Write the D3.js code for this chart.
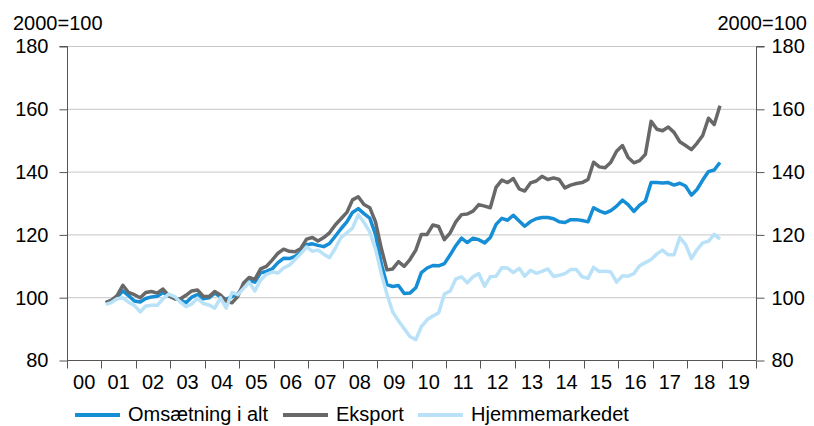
<!DOCTYPE html>
<html>
<head>
<meta charset="utf-8">
<script src="https://cdn.jsdelivr.net/npm/d3@7"></script>
<style>
  body { margin: 0; background: #fff; }
  text { font-family: "Liberation Sans", Arial, sans-serif; fill: #000; }
</style>
</head>
<body>
<script>
// bimonthly points, Feb 2001 .. Dec 2018 (mid-month)
var months = d3.range(108).map(function(i){return new Date(2001, 1 + 2 * i, 15);});
var yearLabels = ['00','01','02','03','04','05','06','07','08','09','10','11','12','13','14','15','16','17','18','19'];
var yTicks = [80, 100, 120, 140, 160, 180];

var omsaetning = [
  98.3, 99, 100, 102, 100.5, 98.8,
  98.5, 99.6, 100.1, 100.3, 101.5, 100.4,
  99.6, 99.2, 98.2, 100, 100.8, 99.5,
  99.8, 101.3, 100.1, 99.3, 100.2, 101,
  103.5, 105.3, 104.8, 107.8, 108.2, 109,
  111, 112.4, 112.3, 113, 114.3, 116.7,
  117, 116.5, 116.1, 117.1, 119.4, 121.8,
  124, 127, 128.2, 126.6, 125.2, 120,
  110.5, 104, 103.4, 103.7, 101.2, 101.3,
  103, 107.8, 109.3, 110.1, 110, 110.7,
  113.5, 116.4, 118.8, 117.4, 118.8, 118.3,
  117.3, 119, 123.2, 125.1, 124.5, 126.1,
  124.3, 122.6, 124.1, 125, 125.4, 125.4,
  125, 124, 123.8, 124.7, 124.7, 124.4,
  124, 128.5, 127.5, 126.8, 127.6, 129,
  130.9, 129.5, 127.3, 129.3, 130.6, 136.5,
  136.5, 136.4, 136.5, 135.7, 136.3, 135.4,
  132.5, 134.3, 137.3, 140, 140.5, 142.9
];
var eksport = [
  98.3, 99, 100.5, 103.8, 101.5, 100.8,
  99.8, 101.5, 101.8, 101.3, 102.6, 100.5,
  99.5, 99.4, 100.6, 102, 102.3, 100.3,
  100.2, 101.8, 100.7, 98.8, 98.2, 100.2,
  104.5, 106.3, 105.7, 109, 109.8, 111.8,
  114, 115.3, 114.6, 114.5, 115.5, 118.5,
  119, 117.9, 119, 120.5, 123, 125,
  127, 131, 132, 129.5, 128.5, 124,
  115.5, 108.7, 109, 111.3, 109.8, 112,
  115, 120, 120, 123, 122.5, 118.3,
  120.5, 124, 126.3, 126.5, 127.4, 129.5,
  129, 128.5, 135, 137.3, 136.5, 137.8,
  134.5, 133.8, 136.4, 137, 138.5, 137.5,
  138, 137.5, 134.8, 135.7, 136.2, 136.5,
  137.5, 143, 141.5, 141.2, 143, 146.5,
  148.3, 144.5, 142.8, 143.5, 145.5, 156,
  153.5, 153, 154.2, 152.5, 149.5, 148.3,
  147, 149, 151.5, 157, 155, 161
];
var hjemmemarked = [
  97.7, 98.3, 99.5, 99.8, 98.4, 97.4,
  95.3, 97.2, 97.4, 97.4, 99.5, 101,
  100.2, 98.5, 97, 97.8, 99.7, 98,
  97.5, 96.5, 99.8, 96.5, 101.5, 100.8,
  102.8, 104.8, 102, 105.5, 107.3, 108,
  107.7, 109.3, 110.2, 112, 113.8, 116,
  114.6, 115, 113.7, 112.6, 115.5, 119,
  120.5, 122, 126.3, 123.8, 120.8, 115.3,
  107.5, 101, 95.3, 92.5, 90, 87.5,
  86.5, 90.6, 92.8, 94, 95, 101,
  102, 105.8, 106.5, 104.6, 106.5, 107.5,
  103.5, 106.5, 106.7, 109.4, 109.3, 107.8,
  109.2, 106.7, 108.6, 107.6, 108.2, 109,
  106.6, 107, 107.5, 108.8, 108.8, 106.5,
  106, 109.5, 108.2, 108.3, 108, 104.8,
  106.8, 106.7, 107.5, 110, 111, 112,
  113.8, 115, 113.5, 113.5, 119, 116.8,
  112.3, 115.1, 117.3, 117.8, 120, 118.5
];

var series = [
  {name: 'Omsætning i alt', values: omsaetning, color: '#168ed6'},
  {name: 'Eksport', values: eksport, color: '#686868'},
  {name: 'Hjemmemarkedet', values: hjemmemarked, color: '#b9e2f8'}
];

var width = 814, height = 426;
var plotL = 67, plotR = 756, plotT = 46, plotB = 360;

var svg = d3.select("body").append("svg").attr("width", width).attr("height", height);

var x = d3.scaleTime()
        .domain([new Date(2000, 0, 1), new Date(2020, 0, 1)])
        .range([plotL, plotR]);
var band = d3.scaleBand()
        .domain(yearLabels)
        .range([plotL, plotR]);
var y = d3.scaleLinear()
        .domain([80, 180])
        .range([plotB, plotT]);

// gridlines
svg.selectAll("line.grid")
    .data(yTicks.filter(function(d){return d > 80;}))
    .enter().append("line")
        .attr("class", "grid")
        .attr("x1", plotL).attr("x2", plotR)
        .attr("y1", function(d){return y(d) + 0.5;})
        .attr("y2", function(d){return y(d) + 0.5;})
        .attr("stroke", "#c6c6c6")
        .attr("stroke-width", 1);

// left and right axes
var yLeft = d3.axisLeft(y).tickValues(yTicks).tickSize(8).tickPadding(11);
var gl = svg.append("g").attr("transform", "translate(" + (plotL + 0.5) + ",0.5)").call(yLeft);
var yRight = d3.axisRight(y).tickValues(yTicks).tickSize(8).tickPadding(7);
var gr = svg.append("g").attr("transform", "translate(" + (plotR + 0.5) + ",0.5)").call(yRight);

// bottom axis: ticks at year boundaries, labels centred in years
var xAxis = d3.axisBottom(band).tickSize(0).tickPadding(14);
var gb = svg.append("g").attr("transform", "translate(0," + (plotB + 0.5) + ")").call(xAxis);
gb.selectAll("line.yt")
    .data(d3.range(0, 21))
    .enter().append("line")
        .attr("class", "yt")
        .attr("x1", function(d){return Math.round(plotL + d * band.step()) + 0.5;})
        .attr("x2", function(d){return Math.round(plotL + d * band.step()) + 0.5;})
        .attr("y1", 0).attr("y2", 8)
        .attr("stroke", "#555");

[gl, gr, gb].forEach(function(g){
  g.selectAll(".domain").attr("stroke", "#555").attr("stroke-width", 1);
  g.selectAll(".tick line").attr("stroke", "#555");
  g.selectAll("text").attr("font-size", 20).attr("font-family", "Liberation Sans, Arial, sans-serif").attr("fill", "#000");
});
gl.select(".domain").attr("d", "M-8," + plotT + "H0V" + plotB);
gr.select(".domain").attr("d", "M8," + plotT + "H0V" + plotB);
gb.select(".domain").attr("d", "M" + plotL + ",0H" + plotR);

// unit labels
svg.append("text").attr("x", 13).attr("y", 30).attr("font-size", 20).text("2000=100");
svg.append("text").attr("x", 807).attr("y", 30).attr("font-size", 20).attr("text-anchor", "end").text("2000=100");

// lines
var line = d3.line()
        .x(function(d, i){return x(months[i]);})
        .y(function(d){return y(d);});

svg.selectAll("path.series")
    .data(series)
    .enter().append("path")
        .attr("class", "series")
        .attr("d", function(d){return line(d.values);})
        .attr("fill", "none")
        .attr("stroke", function(d){return d.color;})
        .attr("stroke-width", 3.5)
        .attr("stroke-linejoin", "round");

// legend
var legendX = [75, 283, 418];
var lg = svg.selectAll("g.legend")
    .data(series)
    .enter().append("g")
        .attr("class", "legend")
        .attr("transform", function(d, i){return "translate(" + legendX[i] + ",415)";});
lg.append("line")
    .attr("x1", 0).attr("x2", 45).attr("y1", 0).attr("y2", 0)
    .attr("stroke", function(d){return d.color;})
    .attr("stroke-width", 4);
lg.append("text")
    .attr("x", 53).attr("y", 6)
    .attr("font-size", 20)
    .text(function(d){return d.name;});
</script>
</body>
</html>
